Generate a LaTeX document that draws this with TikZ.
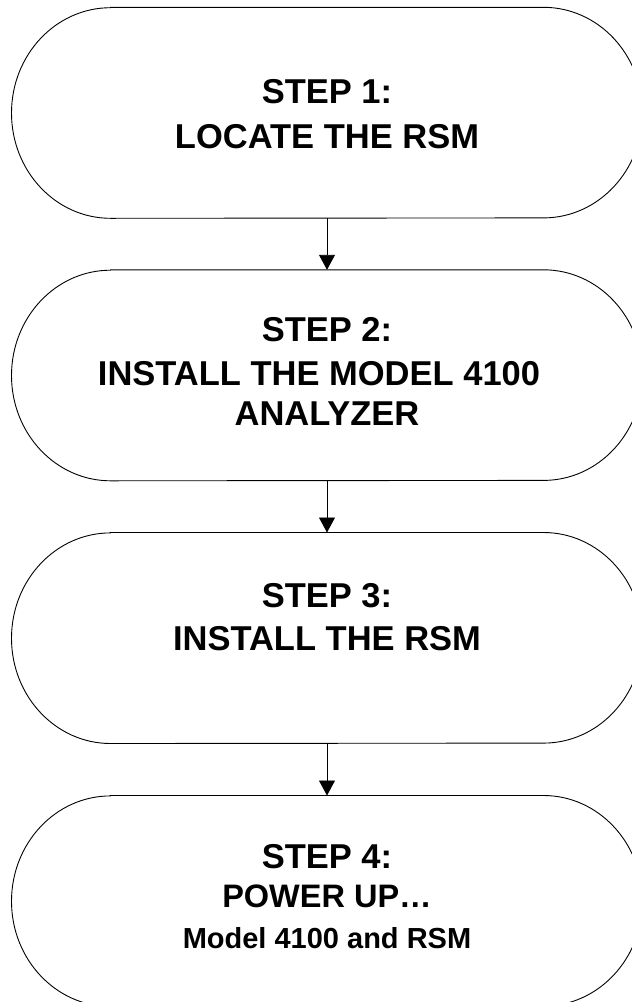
\documentclass[tikz,border=0pt]{standalone}
\usepackage{fontspec}
\setmainfont{Liberation Sans}
\usetikzlibrary{arrows.meta}
\tikzset{
  boxnode/.style={rectangle, inner sep=0pt, minimum width=630.6pt, minimum height=210.6pt},
  outline/.style={draw=black, line width=0.9pt},
  bigtxt/.style={anchor=base, inner sep=0pt, font=\fontsize{34.5pt}{40pt}\selectfont\bfseries},
  midtxt/.style={anchor=base, inner sep=0pt, font=\fontsize{32.5pt}{38pt}\selectfont\bfseries},
  smalltxt/.style={anchor=base, inner sep=0pt, font=\fontsize{29pt}{34pt}\selectfont\bfseries},
  arr/.style={draw=black, line width=0.9pt, -{Triangle[length=15pt,width=16pt]}}
}
\newcommand{\terminator}[1]{%
  \draw[outline] ([xshift=99pt]#1.north west) -- ([xshift=-99pt]#1.north east)
    arc[start angle=90, end angle=-90, x radius=99pt, y radius=105.3pt]
    -- ([xshift=99pt]#1.south west)
    arc[start angle=270, end angle=90, x radius=99pt, y radius=105.3pt] -- cycle;}
\begin{document}
\begin{tikzpicture}[x=1pt, y=-1pt]
\clip (0,0) rectangle (632,1002);
\fill[white] (0,0) rectangle (632,1002);
% boxes
\node[boxnode] (b1) at (327,112.8) {};
\node[boxnode] (b2) at (327,375.3) {};
\node[boxnode] (b3) at (327,638) {};
\node[boxnode] (b4) at (327,901) {};
\terminator{b1}
\terminator{b2}
\terminator{b3}
\terminator{b4}
% texts
\node[bigtxt] (t1a) at (327,103.3) {STEP 1:};
\node[bigtxt] (t1b) at (327,148.3) {LOCATE THE RSM};
\node[bigtxt] (t2a) at (327,341.7) {STEP 2:};
\node[bigtxt] (t2b) at (319,385.7) {INSTALL THE MODEL 4100};
\node[bigtxt] (t2c) at (327,425) {ANALYZER};
\node[bigtxt] (t3a) at (327,607) {STEP 3:};
\node[bigtxt] (t3b) at (327,650) {INSTALL THE RSM};
\node[bigtxt] (t4a) at (327,868.3) {STEP 4:};
\node[midtxt] (t4b) at (327,907.7) {POWER UP…};
\node[smalltxt] (t4c) at (327,948.3) {Model 4100 and RSM};
% connectors
\draw[arr] (b1.south) -- (b2.north);
\draw[arr] (b2.south) -- (b3.north);
\draw[arr] (b3.south) -- (b4.north);
\end{tikzpicture}
\end{document}
